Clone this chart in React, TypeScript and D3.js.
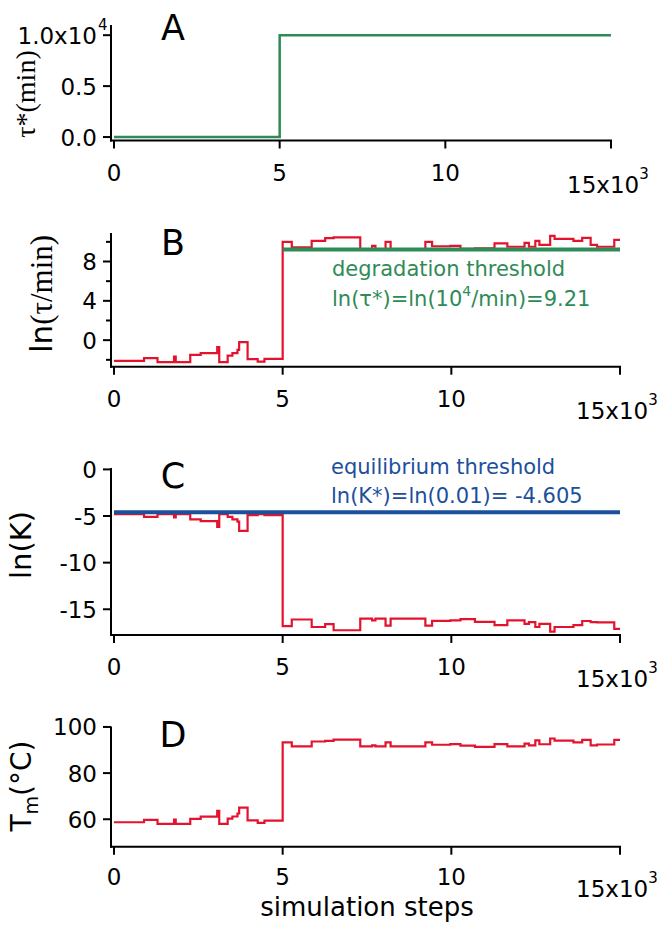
import React from 'react';
import * as d3 from 'd3';

// ---------- data ----------
const xTickValues = [0, 5000, 10000, 15000];
const xTickLabels = ['0', '5', '10', '15x10'];

const tauStarSteps = [0, 5000, 15000];
const tauStarValues = [0, 10000, 10000];

const simSteps = [0, 890, 1290, 1780, 1830, 2260, 2570, 3060, 3120, 3370, 3510, 3660, 3710, 3960, 4260, 4460,
  5000, 5270, 5860, 6260, 6510, 7300, 7650, 7750, 8050, 8200, 9230, 9430, 9970, 10270, 10700, 11280, 11660,
  12170, 12300, 12490, 12610, 12930, 13060, 13620, 13880, 14130, 14320, 14830, 15000];

const lnTauValues = [-2.1, -1.83, -2.24, -1.67, -2.24, -1.5, -1.32, -0.71, -2.24, -1.57, -1.32, -0.99, -0.2, -1.93, -2.18, -1.9,
  10.0, 9.43, 10.1, 10.38, 10.45, 9.25, 9.6, 9.25, 10.0, 9.25, 10.0, 9.55, 9.6, 9.3, 9.35, 9.85, 9.5,
  9.9, 9.5, 10.1, 9.7, 10.6, 10.3, 10.1, 10.4, 9.7, 9.5, 10.2, 10.2];

const lnKValues = [-4.8, -5.09, -4.8, -5.15, -4.8, -5.37, -5.55, -6.16, -4.8, -5.1, -5.37, -5.6, -6.59, -4.9, -4.8, -4.9,
  -16.8, -16.1, -16.9, -16.6, -17.25, -16.0, -16.2, -16.0, -16.75, -16.0, -16.75, -16.25, -16.2, -16.05, -16.35, -16.7, -16.2,
  -16.56, -16.37, -16.9, -16.56, -17.4, -16.9, -16.7, -16.26, -16.37, -16.4, -17.1, -17.1];

const tmValues = [58.7, 59.7, 58.0, 59.9, 58.0, 60.2, 61.1, 63.6, 58.0, 60.3, 61.2, 62.5, 65.0, 59.5, 58.4, 59.4,
  93.3, 91.6, 93.7, 94.0, 94.5, 91.6, 92.0, 91.6, 93.3, 91.6, 93.3, 92.3, 92.6, 91.9, 91.4, 92.6, 91.6,
  92.8, 92.0, 94.2, 92.5, 95.0, 94.1, 93.3, 94.4, 92.0, 92.4, 94.4, 94.4];

const degradationThreshold = 9.21;
const degradationStart = 5000;
const equilibriumThreshold = -4.605;

const aYTicks = [0, 5000, 10000];
const aYLabels = ['0.0', '0.5', '1.0x10'];
const bYTicks = [0, 4, 8];
const bYMinor = [-2, 2, 6, 10];
const cYTicks = [0, -5, -10, -15];
const dYTicks = [60, 80, 100];

// ---------- style ----------
const SANS = 'DejaVu Sans';
const SERIF = 'Liberation Serif';
const GREEN = '#2e8b57';
const RED = '#e3122d';
const BLUE = '#1c4f9c';
const AXIS_X = 111;

type Pt = [number, number];

function Axes({ x, y, yTicks, yLabels, yMinor = [], supOnLast, xLabelDy = 40 }: any) {
  const x1 = x.range()[1];
  const yb = y.range()[0];
  const yt = y.range()[1];
  return (
    <g>
      <line x1={AXIS_X} x2={AXIS_X} y1={yb + 1} y2={yt} stroke="#000" strokeWidth={2} />
      <line x1={AXIS_X - 1} x2={x1 + 1} y1={yb} y2={yb} stroke="#000" strokeWidth={2} />
      {yTicks.map((t: number, i: number) => (
        <g key={'yt' + i}>
          <line x1={AXIS_X - 8} x2={AXIS_X} y1={y(t)} y2={y(t)} stroke="#000" strokeWidth={2} />
          <text x={97} y={y(t) + 8.5} textAnchor="end" fontFamily={SANS} fontSize={23}>
            {yLabels[i]}
          </text>
          {supOnLast && i === yTicks.length - 1 ? (
            <text x={98} y={y(t) - 5} fontFamily={SANS} fontSize={15}>{supOnLast}</text>
          ) : null}
        </g>
      ))}
      {yMinor.map((t: number, i: number) => (
        <line key={'ym' + i} x1={AXIS_X - 5} x2={AXIS_X} y1={y(t)} y2={y(t)} stroke="#000" strokeWidth={2} />
      ))}
      {xTickValues.map((t, i) => (
        <g key={'xt' + i}>
          <line x1={x(t)} x2={x(t)} y1={yb} y2={yb + 8} stroke="#000" strokeWidth={2} />
          {i < xTickValues.length - 1 ? (
            <text x={x(t)} y={yb + xLabelDy} textAnchor="middle" fontFamily={SANS} fontSize={23}>{xTickLabels[i]}</text>
          ) : (
            <text x={x(t) - 44} y={yb + xLabelDy + 12} fontFamily={SANS} fontSize={23}>
              {xTickLabels[i]}
              <tspan dy={-14} fontSize={15}>3</tspan>
            </text>
          )}
        </g>
      ))}
    </g>
  );
}

export default function App() {
  const xA = d3.scaleLinear().domain([0, 15000]).range([114, 611]);
  const x = d3.scaleLinear().domain([0, 15000]).range([114, 620]);

  const yA = d3.scaleLinear().domain([-340, 11000]).range([140.5, 25]);
  const yB = d3.scaleLinear().domain([-2.7, 10.9]).range([366.7, 233]);
  const yC = d3.scaleLinear().domain([-17.76, 0.15]).range([635, 468]);
  const yD = d3.scaleLinear().domain([48.1, 100.2]).range([846.7, 726.5]);

  const mk = (xs: any, ys: any) =>
    d3.line<Pt>().x(d => xs(d[0])).y(d => ys(d[1])).curve(d3.curveStepAfter);

  const aPts: Pt[] = tauStarSteps.map((s, i) => [s, tauStarValues[i]]);
  const bPts: Pt[] = simSteps.map((s, i) => [s, lnTauValues[i]]);
  const cPts: Pt[] = simSteps.map((s, i) => [s, lnKValues[i]]);
  const dPts: Pt[] = simSteps.map((s, i) => [s, tmValues[i]]);

  const letter = (l: string, yy: number) => (
    <text x={173} y={yy} textAnchor="middle" fontFamily={SANS} fontSize={35}>{l}</text>
  );

  return (
    <svg width={666} height={928} style={{ position: 'absolute', left: 0, top: 0, background: '#fff' }}>
      <rect width={666} height={928} fill="#fff" />

      {/* Panel A */}
      <Axes x={xA} y={yA} yTicks={aYTicks} yLabels={aYLabels} supOnLast="4" />
      <path d={mk(xA, yA)(aPts) || ''} fill="none" stroke={GREEN} strokeWidth={2.5} />
      {letter('A', 40)}
      <text transform="translate(35,94) rotate(-90)" textAnchor="middle" fontFamily={SERIF} fontSize={28}>
        τ*(min)
      </text>

      {/* Panel B */}
      <Axes x={x} y={yB} yTicks={bYTicks} yLabels={bYTicks.map(String)} yMinor={bYMinor} />
      <path d={mk(x, yB)(bPts) || ''} fill="none" stroke={RED} strokeWidth={2.2} />
      <line x1={x(degradationStart)} x2={x(15000)} y1={yB(degradationThreshold)} y2={yB(degradationThreshold)}
        stroke={GREEN} strokeWidth={4} />
      {letter('B', 255)}
      <text x={332} y={276} fontFamily={SANS} fontSize={21} fill={GREEN}>degradation threshold</text>
      <text x={332} y={306} fontFamily={SANS} fontSize={21} fill={GREEN}>
        ln(τ*)=ln(10<tspan dy={-10} fontSize={14}>4</tspan><tspan dy={10}>/min)=9.21</tspan>
      </text>
      <text transform="translate(52,294) rotate(-90)" textAnchor="middle" fontSize={31}>
        <tspan fontFamily={SANS}>ln</tspan><tspan fontFamily={SERIF}>(τ/min)</tspan>
      </text>

      {/* Panel C */}
      <Axes x={x} y={yC} yTicks={cYTicks} yLabels={cYTicks.map(String)} />
      <path d={mk(x, yC)(cPts) || ''} fill="none" stroke={RED} strokeWidth={2.2} />
      <line x1={x(0)} x2={x(15000)} y1={yC(equilibriumThreshold)} y2={yC(equilibriumThreshold)}
        stroke={BLUE} strokeWidth={4} />
      {letter('C', 488)}
      <text x={331} y={474} fontFamily={SANS} fontSize={21} fill={BLUE}>equilibrium threshold</text>
      <text x={331} y={503} fontFamily={SANS} fontSize={21} fill={BLUE}>ln(K*)=ln(0.01)= -4.605</text>
      <text transform="translate(31,545) rotate(-90)" textAnchor="middle" fontFamily={SANS} fontSize={29}>
        ln(K)
      </text>

      {/* Panel D */}
      <Axes x={x} y={yD} yTicks={dYTicks} yLabels={dYTicks.map(String)} xLabelDy={38} />
      <path d={mk(x, yD)(dPts) || ''} fill="none" stroke={RED} strokeWidth={2.2} />
      {letter('D', 747)}
      <text transform="translate(31,786) rotate(-90)" textAnchor="middle" fontFamily={SANS} fontSize={28}>
        T<tspan dy={7} fontSize={19}>m</tspan><tspan dy={-7}>(°C)</tspan>
      </text>
      <text x={367} y={916} textAnchor="middle" fontFamily={SANS} fontSize={26}>simulation steps</text>
    </svg>
  );
}
